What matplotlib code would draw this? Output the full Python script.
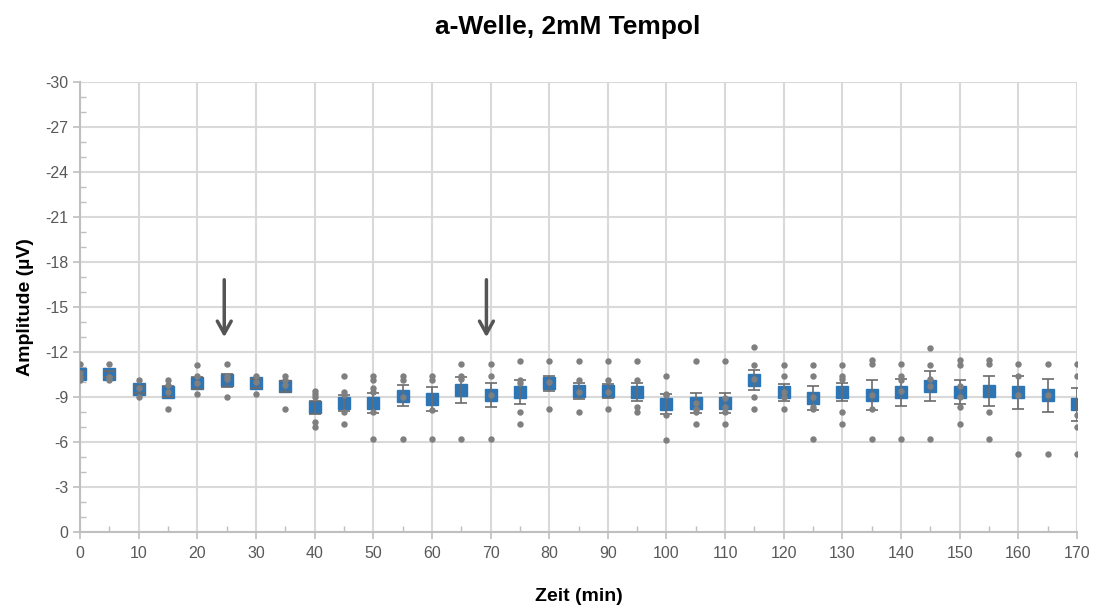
import numpy as np
import matplotlib
matplotlib.use("Agg")
import matplotlib.pyplot as plt
from matplotlib.ticker import MultipleLocator

plt.rcParams['font.family'] = ['Liberation Sans', 'DejaVu Sans']
plt.rcParams['axes.unicode_minus'] = False

# time points (min)
zeit = list(range(0, 175, 5))

# mean amplitude (µV)
mittel = [-10.5, -10.5, -9.5, -9.35, -9.9, -10.1, -9.9, -9.7, -8.3, -8.6,
          -8.6, -9.07, -8.87, -9.45, -9.1, -9.3, -9.9, -9.4, -9.4, -9.3,
          -8.53, -8.6, -8.6, -10.13, -9.3, -8.9, -9.3, -9.1, -9.3, -9.7,
          -9.3, -9.4, -9.3, -9.1, -8.53]

# standard error
sem = [0.2, 0.2, 0.25, 0.35, 0.4, 0.45, 0.3, 0.35, 0.45, 0.55,
       0.65, 0.7, 0.8, 0.85, 0.8, 0.8, 0.5, 0.55, 0.45, 0.6,
       0.65, 0.65, 0.65, 0.65, 0.55, 0.8, 0.6, 1.0, 0.9, 1.0,
       0.8, 1.0, 1.1, 1.1, 1.1]

# single recordings
einzel = [
    [-11.2, -10.6, -10.3, -10.1],
    [-11.2, -10.3, -10.1],
    [-10.1, -9.6, -9.0],
    [-10.1, -9.8, -9.3, -8.2],
    [-11.1, -10.4, -9.9, -9.2],
    [-11.2, -10.4, -10.2, -9.0],
    [-10.4, -10.0, -9.2],
    [-10.4, -10.1, -9.8, -8.2],
    [-9.4, -9.2, -9.0, -7.3, -7.0],
    [-10.4, -9.3, -9.1, -8.0, -7.2],
    [-10.4, -10.1, -9.6, -9.3, -8.0, -6.2],
    [-10.4, -10.1, -9.0, -6.2],
    [-10.4, -10.1, -8.1, -6.2],
    [-11.2, -10.4, -10.2, -6.2],
    [-11.2, -10.4, -9.1, -6.2],
    [-11.4, -10.1, -9.9, -8.0, -7.2],
    [-11.4, -10.0, -8.2],
    [-11.4, -10.1, -9.3, -8.0],
    [-11.4, -10.1, -9.3, -8.2],
    [-11.4, -10.1, -8.3, -8.0],
    [-10.4, -9.2, -9.1, -7.8, -6.1],
    [-11.4, -8.6, -8.2, -8.0, -7.2],
    [-11.4, -8.9, -8.3, -8.0, -7.2],
    [-12.3, -11.1, -10.2, -9.0, -8.2],
    [-11.1, -10.4, -9.3, -9.0, -8.2],
    [-11.1, -10.4, -9.0, -8.3, -8.2, -6.2],
    [-11.1, -10.4, -10.2, -8.0, -7.2],
    [-11.45, -11.2, -9.1, -8.2, -6.2],
    [-11.2, -10.4, -10.1, -9.4, -6.2],
    [-12.25, -11.1, -10.2, -9.7, -6.2],
    [-11.45, -11.1, -9.7, -9.0, -8.3, -7.2],
    [-11.45, -11.2, -8.0, -6.2],
    [-11.2, -10.4, -9.1, -5.2],
    [-11.2, -9.1, -5.2],
    [-11.2, -10.4, -7.8, -7.0, -5.2],
]

# Tempol application marks
pfeile = [24.6, 69.3]

fig = plt.figure(figsize=(10.94, 6.10), dpi=100)
ax = fig.add_axes([0.0731, 0.1279, 0.9114, 0.7377])

xs = [t for t, vals in zip(zeit, einzel) for v in vals]
ys = [v for vals in einzel for v in vals]

ax.plot(zeit, mittel, ls='none', marker='s', ms=9, color='#2E75B6', zorder=3)
ax.errorbar(zeit, mittel, yerr=sem, ls='none', ecolor='#6b6b6b', elinewidth=1.2,
            capsize=4, capthick=1.2, zorder=4)
ax.plot(xs, ys, ls='none', marker='o', ms=3.6, color='#7f7f7f', zorder=5)

for px in pfeile:
    ax.annotate('', xy=(px, -12.8), xytext=(px, -17.0),
                arrowprops=dict(arrowstyle='->,head_width=0.5,head_length=0.9',
                                color='#555555', lw=2.5), zorder=6)

ax.set_xlim(0, 170)
ax.set_ylim(0, -30)
ax.xaxis.set_major_locator(MultipleLocator(10))
ax.xaxis.set_minor_locator(MultipleLocator(5))
ax.yaxis.set_major_locator(MultipleLocator(3))
ax.yaxis.set_minor_locator(MultipleLocator(1))

ax.grid(True, which='major', color='#d9d9d9', lw=1.5, zorder=0)
ax.set_axisbelow(True)
for s in ['top', 'right']:
    ax.spines[s].set_visible(False)
for s in ['left', 'bottom']:
    ax.spines[s].set_color('#bfbfbf')
    ax.spines[s].set_linewidth(1.5)

ax.tick_params(which='major', direction='out', length=5, color='#bfbfbf',
               labelcolor='#595959', labelsize=11.5, width=1.2)
ax.tick_params(which='minor', direction='in', length=4, color='#bfbfbf', width=1)
ax.tick_params(axis='x', pad=5)

ax.set_xlabel('Zeit (min)', fontsize=14, fontweight='bold')
ax.xaxis.set_label_coords(0.5, -0.125)
ax.set_ylabel('Amplitude (µV)', fontsize=14, fontweight='bold')
ax.yaxis.set_label_coords(-0.046, 0.5)
fig.suptitle('a-Welle, 2mM Tempol', fontsize=19, fontweight='bold', x=0.519, y=0.975)

fig.savefig('out.png', dpi=100)
